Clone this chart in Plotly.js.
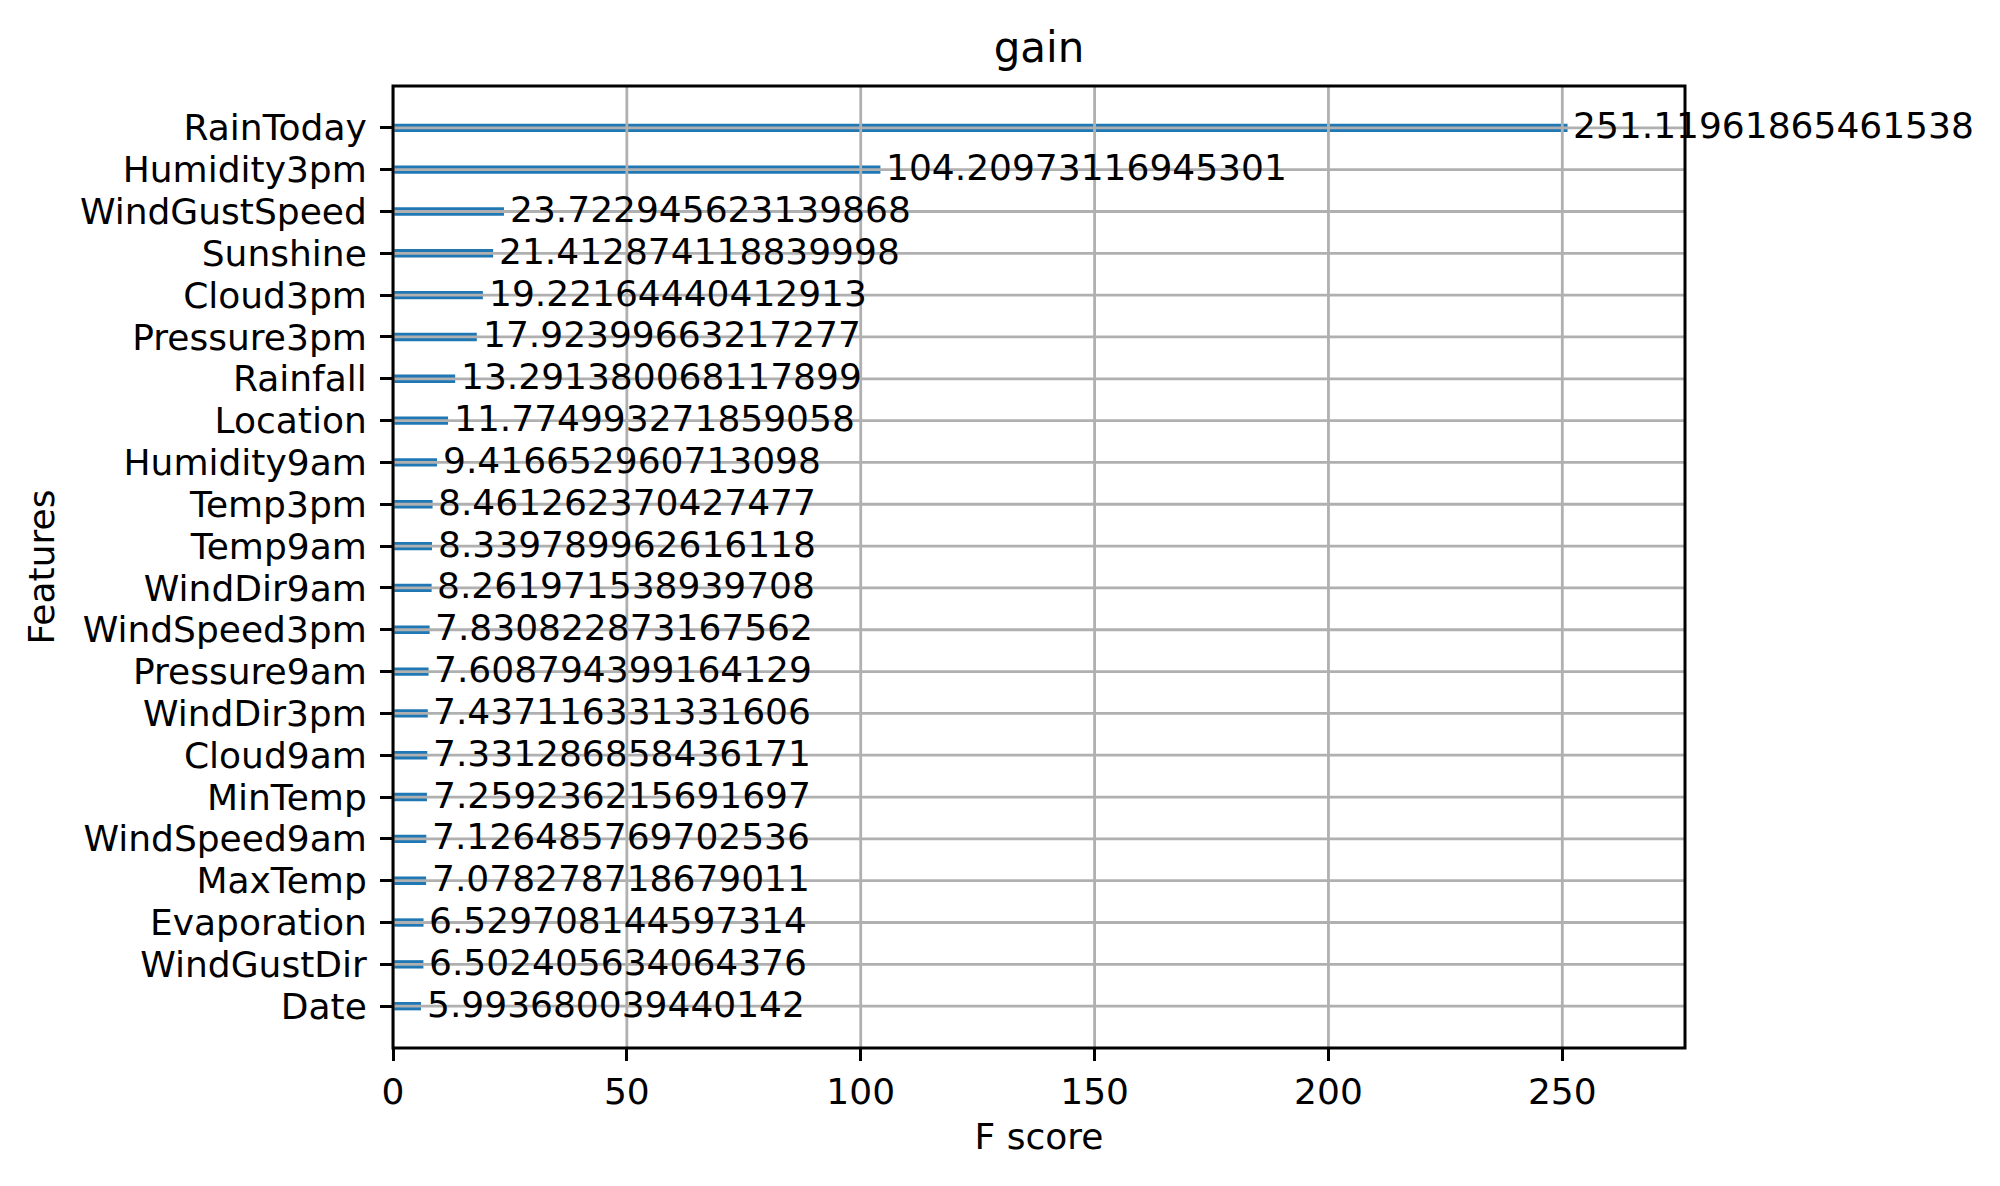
<!DOCTYPE html>
<html>
<head>
<meta charset="utf-8">
<script src="https://cdn.plot.ly/plotly-3.0.1.min.js"></script>
<style>html,body{margin:0;padding:0;background:#fff;}#chart{width:2000px;height:1186px;}</style>
</head>
<body>
<div id="chart"></div>
<script>
const features = ["RainToday","Humidity3pm","WindGustSpeed","Sunshine","Cloud3pm","Pressure3pm","Rainfall","Location","Humidity9am","Temp3pm","Temp9am","WindDir9am","WindSpeed3pm","Pressure9am","WindDir3pm","Cloud9am","MinTemp","WindSpeed9am","MaxTemp","Evaporation","WindGustDir","Date"];
const scores = [251.11961865461538,104.20973116945301,23.722945623139868,21.412874118839998,19.22164440412913,17.92399663217277,13.291380068117899,11.774993271859058,9.416652960713098,8.461262370427477,8.339789962616118,8.261971538939708,7.830822873167562,7.608794399164129,7.437116331331606,7.331286858436171,7.259236215691697,7.126485769702536,7.078278718679011,6.529708144597314,6.502405634064376,5.993680039440142];
const xTicks = [0,50,100,150,200,250];
const titleText = "gain";
const xTitle = "F score";
const yTitle = "Features";

const font = "DejaVu Sans";
const bottomUp = features.slice().reverse();
const xMax = Math.max(...scores) * 1.1;

const shapes = [];
xTicks.forEach(t => shapes.push({type:'line', xref:'x', yref:'paper', x0:t, x1:t, y0:0, y1:1, layer:'above', line:{color:'#b0b0b0', width:2.8}}));
features.forEach(f => shapes.push({type:'line', xref:'paper', yref:'y', x0:0, x1:1, y0:f, y1:f, layer:'above', line:{color:'#b0b0b0', width:2.8}}));
shapes.push({type:'rect', xref:'paper', yref:'paper', x0:0, x1:1, y0:0, y1:1, layer:'above', line:{color:'#000', width:3}});

const annotations = features.map((f,i) => ({x: scores[i] + 1, y: f, xref:'x', yref:'y', text: String(scores[i]), showarrow:false, xanchor:'left', yanchor:'middle', yshift:2, font:{family:font, size:36, color:'#000'}, borderpad:0}));

const trace = {type:'bar', orientation:'h', x: scores, y: features, width:0.2, marker:{color:'#1f77b4', line:{width:0}}, hoverinfo:'skip'};

const layout = {
  width:2000, height:1186,
  margin:{l:393, r:315, t:85.5, b:137.5, pad:0},
  paper_bgcolor:'#fff', plot_bgcolor:'#fff',
  font:{family:font, size:36, color:'#000'},
  showlegend:false,
  title:{text:titleText, font:{family:font, size:42, color:'#000'}, x:0.5, xref:'paper', xanchor:'center', y:1-47/1186, yref:'container', yanchor:'middle'},
  xaxis:{range:[0,xMax], tickmode:'array', tickvals:xTicks, ticktext:xTicks.map(String), showgrid:false, zeroline:false, showline:false, ticks:'outside', ticklen:12, tickwidth:3, tickcolor:'#000', tickfont:{family:font,size:36,color:'#000'}, title:{text:xTitle, standoff:12, font:{family:font,size:36,color:'#000'}}, automargin:false, fixedrange:true},
  yaxis:{type:'category', categoryorder:'array', categoryarray:bottomUp, tickmode:'array', tickvals:bottomUp, ticktext:bottomUp, range:[-1,22], showgrid:false, zeroline:false, showline:false, ticks:'outside', ticklen:12, tickwidth:3, tickcolor:'#000', ticklabelstandoff:6, tickfont:{family:font,size:36,color:'#000'}, title:{text:yTitle, standoff:14, font:{family:font,size:36,color:'#000'}}, automargin:false, fixedrange:true},
  shapes: shapes,
  annotations: annotations
};

Plotly.newPlot('chart', [trace], layout, {displayModeBar:false, staticPlot:true});
</script>
</body>
</html>
